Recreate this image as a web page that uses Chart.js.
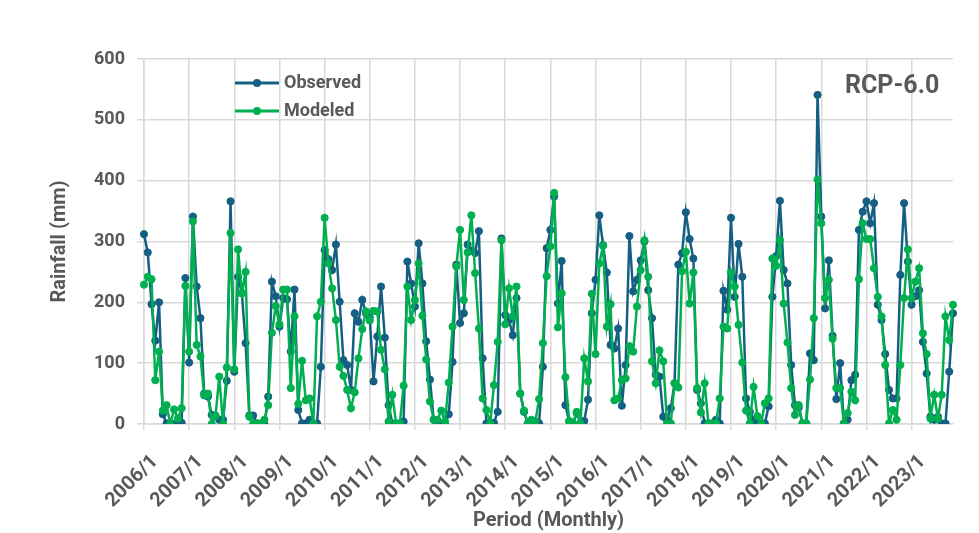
<!DOCTYPE html>
<html>
<head>
<meta charset="utf-8">
<script src="https://cdn.jsdelivr.net/npm/chart.js@4.4.1/dist/chart.umd.min.js"></script>
<style>
    html, body { margin: 0; padding: 0; background: #ffffff; }
    #wrap { width: 979px; height: 533px; }
</style>
</head>
<body>
<div id="wrap"><canvas id="rainChart" width="979" height="533"></canvas></div>
<script>
// period: monthly, 2006/1 .. 2023/12
const years = [2006, 2007, 2008, 2009, 2010, 2011, 2012, 2013, 2014, 2015, 2016, 2017, 2018, 2019, 2020, 2021, 2022, 2023];
const months = [1, 2, 3, 4, 5, 6, 7, 8, 9, 10, 11, 12];
const yTicks = [0, 100, 200, 300, 400, 500, 600];

// rainfall (mm), one row per year
const observed = [
    312, 282, 197, 137, 200, 16, 1, 0, 0, 0, 2, 240,
    101, 341, 226, 174, 50, 45, 15, 14, 7, 7, 71, 366,
    86, 242, 215, 133, 14, 14, 1, 0, 0, 45, 234, 210,
    160, 207, 205, 119, 221, 23, 1, 1, 7, 1, 1, 94,
    286, 271, 253, 295, 201, 105, 97, 56, 182, 168, 204, 182,
    175, 70, 144, 226, 142, 31, 1, 1, 1, 4, 267, 231,
    193, 297, 231, 136, 73, 7, 1, 1, 1, 16, 102, 262,
    166, 182, 295, 285, 281, 317, 108, 1, 1, 2, 20, 305,
    179, 171, 146, 207, 50, 20, 1, 1, 4, 1, 94, 289,
    319, 374, 198, 268, 31, 4, 1, 18, 1, 5, 40, 182,
    237, 343, 294, 249, 130, 124, 157, 30, 97, 309, 218, 237,
    269, 300, 220, 174, 81, 78, 12, 7, 26, 67, 262, 281,
    348, 304, 272, 56, 34, 1, 1, 1, 7, 1, 219, 188,
    339, 209, 296, 242, 42, 20, 7, 1, 1, 1, 29, 209,
    276, 367, 253, 231, 97, 31, 27, 1, 1, 116, 105, 541,
    341, 190, 269, 145, 41, 100, 1, 7, 72, 81, 319, 349,
    366, 330, 363, 196, 171, 115, 56, 42, 42, 245, 363, 267,
    196, 210, 220, 135, 83, 12, 7, 12, 1, 1, 86, 182
];

const modeled = [
    229, 242, 238, 72, 119, 22, 31, 0, 24, 9, 26, 227,
    119, 333, 130, 111, 47, 50, 0, 13, 78, 0, 93, 314,
    90, 287, 215, 250, 12, 0, 1, 1, 7, 31, 150, 194,
    164, 221, 221, 59, 177, 33, 104, 39, 42, 1, 177, 201,
    339, 264, 223, 171, 94, 79, 56, 26, 52, 108, 156, 185,
    170, 186, 185, 122, 90, 4, 48, 1, 1, 63, 226, 171,
    204, 264, 178, 106, 37, 7, 7, 22, 4, 68, 160, 259,
    319, 204, 282, 343, 248, 157, 42, 23, 1, 64, 135, 302,
    164, 223, 177, 226, 50, 22, 1, 7, 4, 41, 133, 243,
    292, 380, 159, 215, 77, 5, 1, 20, 1, 108, 70, 214,
    115, 264, 293, 160, 197, 39, 42, 72, 75, 128, 119, 193,
    253, 302, 242, 103, 67, 121, 103, 1, 1, 67, 60, 251,
    283, 198, 249, 59, 19, 67, 1, 1, 1, 42, 160, 157,
    249, 226, 163, 101, 22, 1, 61, 13, 1, 34, 42, 272,
    260, 302, 198, 134, 59, 15, 31, 1, 1, 73, 174, 402,
    330, 207, 237, 140, 59, 59, 1, 18, 53, 39, 238, 330,
    304, 304, 256, 209, 177, 97, 1, 23, 7, 97, 207, 287,
    207, 234, 256, 149, 115, 9, 48, 9, 48, 177, 138, 196
];

const OBS_COLOR = '#156082';
const MOD_COLOR = '#00b050';
const GRID = '#d9d9d9';
const TEXT = '#595959';
const FONT = 'Roboto, "Liberation Sans", sans-serif';

const labels = [];
years.forEach(y => months.forEach(m => labels.push(y + '/' + m)));

// legend box inside the plot + scenario tag
const overlayText = {
    id: 'overlayText',
    afterDatasetsDraw(chart) {
        const ctx = chart.ctx;
        ctx.save();
        const items = [
            { text: 'Observed', color: OBS_COLOR, y: 83 },
            { text: 'Modeled', color: MOD_COLOR, y: 111 }
        ];
        items.forEach(it => {
            ctx.strokeStyle = it.color;
            ctx.lineWidth = 3;
            ctx.beginPath();
            ctx.moveTo(235, it.y);
            ctx.lineTo(279, it.y);
            ctx.stroke();
            ctx.fillStyle = it.color;
            ctx.beginPath();
            ctx.arc(257, it.y, 4, 0, Math.PI * 2);
            ctx.fill();
            ctx.fillStyle = TEXT;
            ctx.font = 'bold 18px ' + FONT;
            ctx.textAlign = 'left';
            ctx.textBaseline = 'middle';
            ctx.fillText(it.text, 284, it.y);
        });
        ctx.font = 'bold 25px ' + FONT;
        ctx.fillStyle = TEXT;
        ctx.fillText('RCP-6.0', 845, 87);
        ctx.restore();
    }
};

const ctx = document.getElementById('rainChart').getContext('2d');
new Chart(ctx, {
    type: 'line',
    data: {
        labels: labels,
        datasets: [{
            label: 'Observed',
            data: observed,
            borderColor: OBS_COLOR,
            backgroundColor: OBS_COLOR,
            pointBackgroundColor: OBS_COLOR,
            pointBorderColor: OBS_COLOR,
            borderWidth: 2.5,
            pointRadius: 3.6,
            pointBorderWidth: 1,
            tension: 0,
            order: 2
        }, {
            label: 'Modeled',
            data: modeled,
            borderColor: MOD_COLOR,
            backgroundColor: MOD_COLOR,
            pointBackgroundColor: MOD_COLOR,
            pointBorderColor: MOD_COLOR,
            borderWidth: 2.5,
            pointRadius: 3.6,
            pointBorderWidth: 1,
            tension: 0,
            order: 1
        }]
    },
    options: {
        responsive: false,
        animation: false,
        layout: { padding: { top: 59, right: 26, bottom: 0, left: 0 } },
        plugins: {
            legend: { display: false },
            tooltip: { enabled: false }
        },
        scales: {
            x: {
                offset: false,
                grid: {
                    color: c => (c.index % 12 === 0 ? GRID : 'rgba(0,0,0,0)'),
                    lineWidth: 1.5,
                    tickLength: 6
                },
                border: { color: GRID, width: 1.5 },
                ticks: {
                    autoSkip: false,
                    minRotation: 45,
                    maxRotation: 45,
                    padding: 20,
                    labelOffset: 11,
                    color: TEXT,
                    font: { family: FONT, size: 20, weight: 'bold' },
                    callback: function (value) {
                        const lab = this.getLabelForValue(value);
                        return lab.endsWith('/1') ? lab : '';
                    }
                },
                title: {
                    display: true,
                    text: 'Period (Monthly)',
                    color: TEXT,
                    font: { family: FONT, size: 20, weight: 'bold' },
                    padding: { top: 0, bottom: 0 }
                },
                afterFit: s => {
                    s.height = 109;
                    // keep rotated labels from squeezing the plot width
                    s.paddingLeft = 0;
                    s.paddingRight = 0;
                }
            },
            y: {
                min: yTicks[0],
                max: yTicks[yTicks.length - 1],
                grid: { color: GRID, lineWidth: 1.5, tickLength: 7 },
                border: { color: GRID, width: 1.5 },
                ticks: {
                    stepSize: yTicks[1] - yTicks[0],
                    padding: 12,
                    color: TEXT,
                    font: { family: FONT, size: 18, weight: 'bold' }
                },
                title: {
                    display: true,
                    text: 'Rainfall (mm)',
                    color: TEXT,
                    font: { family: FONT, size: 20, weight: 'bold' },
                    padding: { top: 48, bottom: 0 }
                },
                afterFit: s => { s.width = 144; }
            }
        }
    },
    plugins: [overlayText]
});
</script>
</body>
</html>
